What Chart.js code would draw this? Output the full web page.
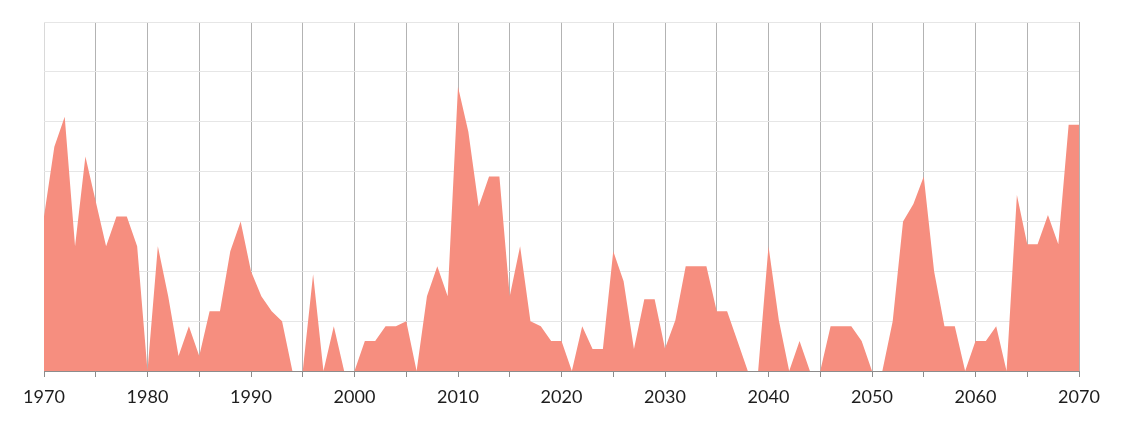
<!DOCTYPE html>
<html>
<head>
<meta charset="utf-8">
<script src="https://cdn.jsdelivr.net/npm/chart.js@4"></script>
<style>
html,body{margin:0;padding:0;background:#fff;}
#wrap{width:1124px;height:423px;}
</style>
</head>
<body>
<div id="wrap"><canvas id="c" width="1124" height="423"></canvas></div>
<script>
const years = [];
for (let y = 1970; y <= 2070; y++) years.push(y);
const values = [
  31, 45, 51, 25, 43, 34, 25, 31, 31, 25,
  0, 25, 15, 3, 9, 3, 12, 12, 24, 30,
  20, 15, 12, 10, 0, 0, 19.4, 0, 9, 0,
  0, 6, 6, 9, 9, 10, 0, 15, 21, 15,
  57, 48, 33, 39, 39, 15, 25, 10, 9, 6,
  6, 0, 9, 4.4, 4.4, 24, 18, 4.4, 14.4, 14.4,
  4.5, 10.2, 21, 21, 21, 12, 12, 6, 0, 0,
  25, 10.2, 0, 6, 0, 0, 9, 9, 9, 6,
  0, 0, 10, 30, 33.5, 39, 20, 9, 9, 0,
  6, 6, 9, 0, 35.3, 25.4, 25.4, 31.3, 25.4, 49.4,
  49.4
];
const xMin = 1970, xMax = 2070, yMin = 0, yMax = 70;

const points = years.map((yr, i) => ({x: yr, y: values[i]}));

new Chart(document.getElementById('c'), {
  type: 'line',
  data: {
    datasets: [{
      data: points,
      fill: 'origin',
      backgroundColor: '#F68E7F',
      borderWidth: 0,
      borderColor: 'rgba(0,0,0,0)',
      pointRadius: 0,
      tension: 0
    }]
  },
  options: {
    responsive: false,
    animation: false,
    events: [],
    layout: {padding: {left: 44, right: 45, top: 22, bottom: 6.4}},
    plugins: {legend: {display: false}, tooltip: {enabled: false}},
    scales: {
      x: {
        type: 'linear',
        min: xMin, max: xMax,
        ticks: {
          stepSize: 5,
          autoSkip: false,
          maxRotation: 0,
          padding: 9,
          color: '#1e1e1e',
          font: {family: 'Lato', size: 18},
          callback: v => (v % 10 === 0 ? String(v) : '')
        },
        grid: {
          color: ctx => (ctx.tick && ctx.tick.value === xMin ? '#d9d9d9' : '#b3b3b3'),
          tickColor: '#8c8c8c',
          tickLength: 6,
          lineWidth: 1
        },
        border: {display: true, color: '#8c8c8c', width: 1}
      },
      y: {
        min: yMin, max: yMax,
        ticks: {display: false, stepSize: 10},
        grid: {color: '#e6e6e6', drawTicks: false, lineWidth: 1},
        border: {display: false}
      }
    }
  }
});
</script>
</body>
</html>
